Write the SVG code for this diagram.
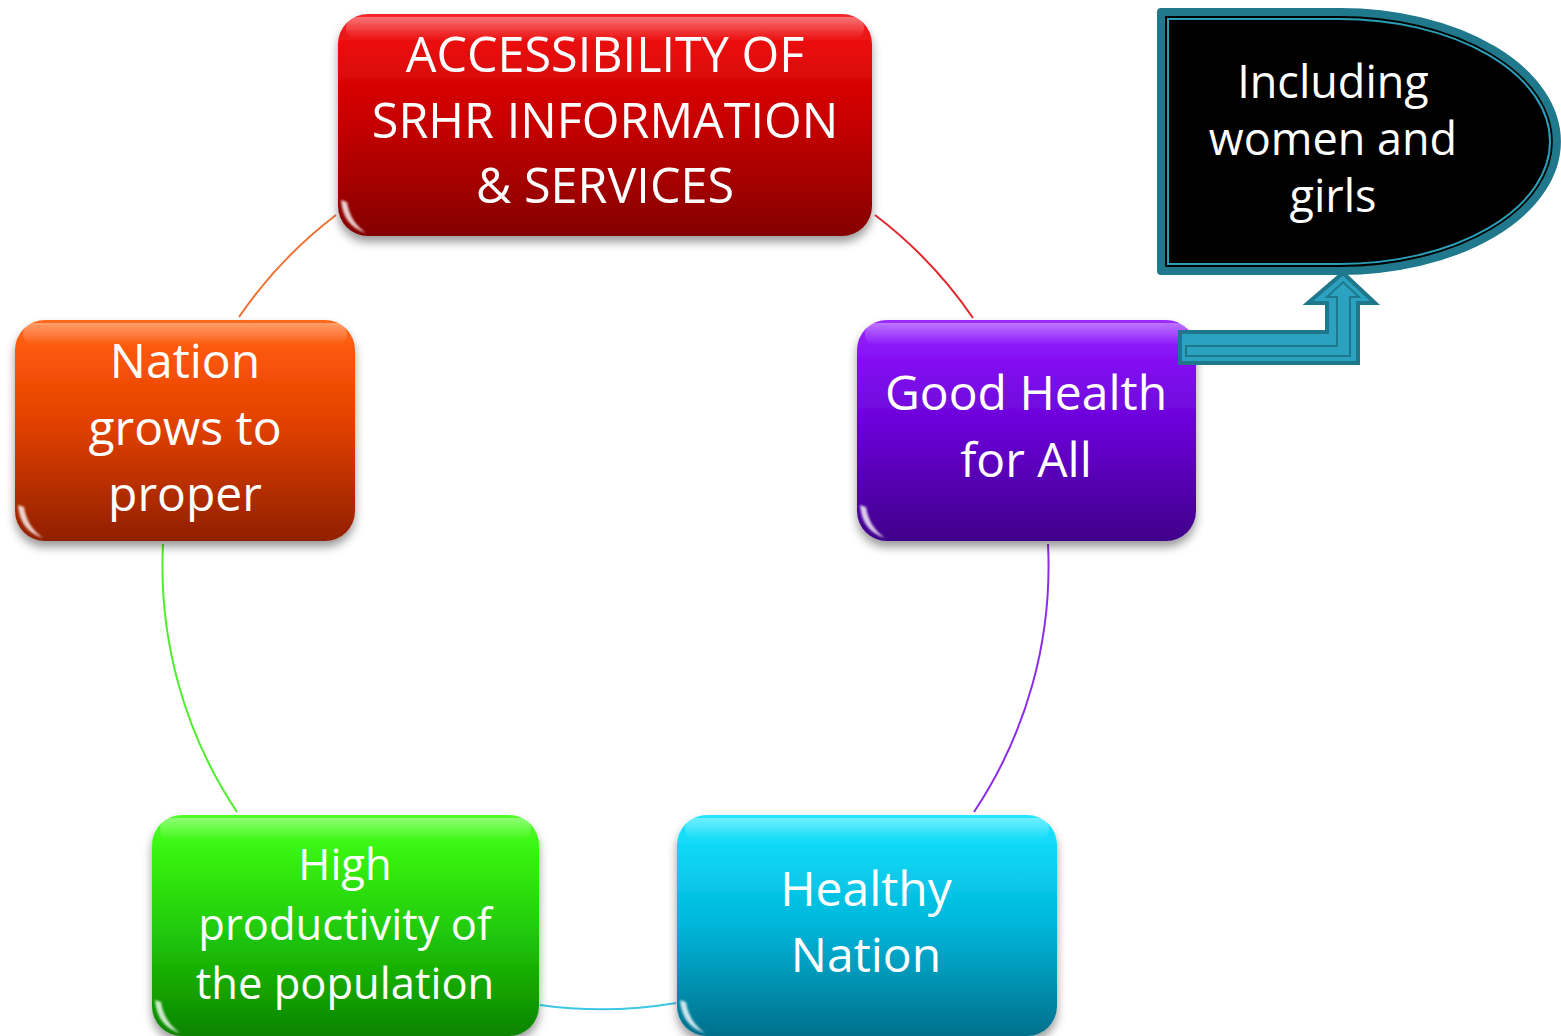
<svg xmlns="http://www.w3.org/2000/svg" width="1561" height="1036" viewBox="0 0 1561 1036">
<defs>
  <linearGradient id="gRed" x1="0" y1="0" x2="0" y2="1">
    <stop offset="0" stop-color="#f5282c"/><stop offset="0.15" stop-color="#e80b0b"/><stop offset="0.5" stop-color="#c50000"/><stop offset="1" stop-color="#840000"/>
  </linearGradient>
  <linearGradient id="gOrange" x1="0" y1="0" x2="0" y2="1">
    <stop offset="0" stop-color="#ff6a1c"/><stop offset="0.15" stop-color="#fb560a"/><stop offset="0.5" stop-color="#de3f00"/><stop offset="1" stop-color="#911f00"/>
  </linearGradient>
  <linearGradient id="gPurple" x1="0" y1="0" x2="0" y2="1">
    <stop offset="0" stop-color="#9b2cff"/><stop offset="0.15" stop-color="#8712f6"/><stop offset="0.5" stop-color="#6802d4"/><stop offset="1" stop-color="#40008a"/>
  </linearGradient>
  <linearGradient id="gCyan" x1="0" y1="0" x2="0" y2="1">
    <stop offset="0" stop-color="#22e6ff"/><stop offset="0.15" stop-color="#0fd8f5"/><stop offset="0.5" stop-color="#00b6da"/><stop offset="1" stop-color="#00708c"/>
  </linearGradient>
  <linearGradient id="gGreen" x1="0" y1="0" x2="0" y2="1">
    <stop offset="0" stop-color="#52ff2a"/><stop offset="0.15" stop-color="#3af512"/><stop offset="0.5" stop-color="#22cd09"/><stop offset="1" stop-color="#0a8400"/>
  </linearGradient>
  <linearGradient id="gShine" x1="0" y1="0" x2="0" y2="1">
    <stop offset="0" stop-color="#fff" stop-opacity="0.35"/><stop offset="1" stop-color="#fff" stop-opacity="0"/>
  </linearGradient>
  <filter id="shadow" x="-10%" y="-10%" width="120%" height="130%">
    <feDropShadow dx="0" dy="6" stdDeviation="5" flood-color="#000" flood-opacity="0.4"/>
  </filter>
  <filter id="soft" x="-50%" y="-50%" width="200%" height="200%">
    <feGaussianBlur stdDeviation="1.2"/>
  </filter>
</defs>
<style>
  .conn { fill: none; stroke-width: 2; }
  .box { filter: url(#shadow); }
  .shine { fill: url(#gShine); }
  .glare { fill: #fff; opacity: 0.8; filter: url(#soft); }
  .lbl { font-family: "Open Sans", "Noto Sans", "DejaVu Sans", sans-serif; fill: #fff; text-anchor: middle; font-size: 48px; }
  .lbl.s47 { font-size: 48.5px; }
  .lbl.s46 { font-size: 45px; }
  .lbl.s40 { font-size: 43.5px; }
</style>

<g id="connectors">
  <path class="conn" stroke="#ee7232" d="M239,317 A443,443 0 0 1 336,215"/>
  <path class="conn" stroke="#e0272c" d="M875,215 A443,443 0 0 1 973,318"/>
  <path class="conn" stroke="#8c2ee6" d="M1048,544 A443,443 0 0 1 974,812"/>
  <path class="conn" stroke="#3ec6e4" d="M676,1003 A443,443 0 0 1 540,1005"/>
  <path class="conn" stroke="#4fee2c" d="M237,812 A443,443 0 0 1 163,544"/>
</g>

<g id="node-access">
  <rect class="box" x="338" y="14" width="534" height="222" rx="30" fill="url(#gRed)"/>
  <rect class="shine" x="346" y="17" width="518" height="22" rx="11"/>
  <path class="glare" d="M341,200 Q343,226 366,233 Q350,222 347,202 Z"/>
  <text class="lbl s47" x="605" y="72">ACCESSIBILITY OF</text>
  <text class="lbl s47" x="605" y="138">SRHR INFORMATION</text>
  <text class="lbl s47" x="605" y="203">&amp; SERVICES</text>
</g>

<g id="node-goodhealth">
  <rect class="box" x="857" y="320" width="339" height="221" rx="30" fill="url(#gPurple)"/>
  <rect class="shine" x="865" y="323" width="323" height="22" rx="11"/>
  <path class="glare" d="M860,505 Q862,531 885,538 Q869,527 866,507 Z"/>
  <text class="lbl" x="1026" y="410">Good Health</text>
  <text class="lbl" x="1026" y="477">for All</text>
</g>

<g id="node-healthy">
  <rect class="box" x="677" y="815" width="380" height="221" rx="30" fill="url(#gCyan)"/>
  <rect class="shine" x="685" y="818" width="364" height="22" rx="11"/>
  <path class="glare" d="M680,1000 Q682,1026 705,1033 Q689,1022 686,1002 Z"/>
  <text class="lbl" x="866" y="906">Healthy</text>
  <text class="lbl" x="866" y="972">Nation</text>
</g>

<g id="node-productivity">
  <rect class="box" x="152" y="815" width="387" height="221" rx="30" fill="url(#gGreen)"/>
  <rect class="shine" x="160" y="818" width="371" height="22" rx="11"/>
  <path class="glare" d="M155,1000 Q157,1026 180,1033 Q164,1022 161,1002 Z"/>
  <text class="lbl s40" x="345" y="880">High</text>
  <text class="lbl s40" x="345" y="940">productivity of</text>
  <text class="lbl s40" x="345" y="999">the population</text>
</g>

<g id="node-nation">
  <rect class="box" x="15" y="320" width="340" height="221" rx="30" fill="url(#gOrange)"/>
  <rect class="shine" x="23" y="323" width="324" height="22" rx="11"/>
  <path class="glare" d="M18,505 Q20,531 43,538 Q27,527 24,507 Z"/>
  <text class="lbl" x="185" y="378">Nation</text>
  <text class="lbl" x="185" y="445">grows to</text>
  <text class="lbl" x="185" y="511">proper</text>
</g>

<g id="callout-arrow">
  <polygon points="1343,273 1375,303 1358,303 1358,363 1180,363 1180,332 1327,332 1327,303 1308,303" fill="#2ba3c0" stroke="#1f778b" stroke-width="4" stroke-linejoin="miter"/>
  <path d="M1186,346 H1337 V297 H1327 L1343,282 L1359,297 H1350 V356 H1186 Z" fill="none" stroke="#1f778b" stroke-width="2"/>
</g>

<g id="node-including">
  <path d="M1161,12 H1340 A217,129.5 0 0 1 1340,271 H1161 Z" fill="#000" stroke="#20788c" stroke-width="8" stroke-linejoin="round"/>
  <path d="M1168,19 H1340 A210,122.5 0 0 1 1340,264 H1168 Z" fill="none" stroke="#2a9fb8" stroke-width="2"/>
  <text class="lbl s46" x="1333" y="98">Including</text>
  <text class="lbl s46" x="1333" y="155">women and</text>
  <text class="lbl s46" x="1333" y="212">girls</text>
</g>
</svg>
